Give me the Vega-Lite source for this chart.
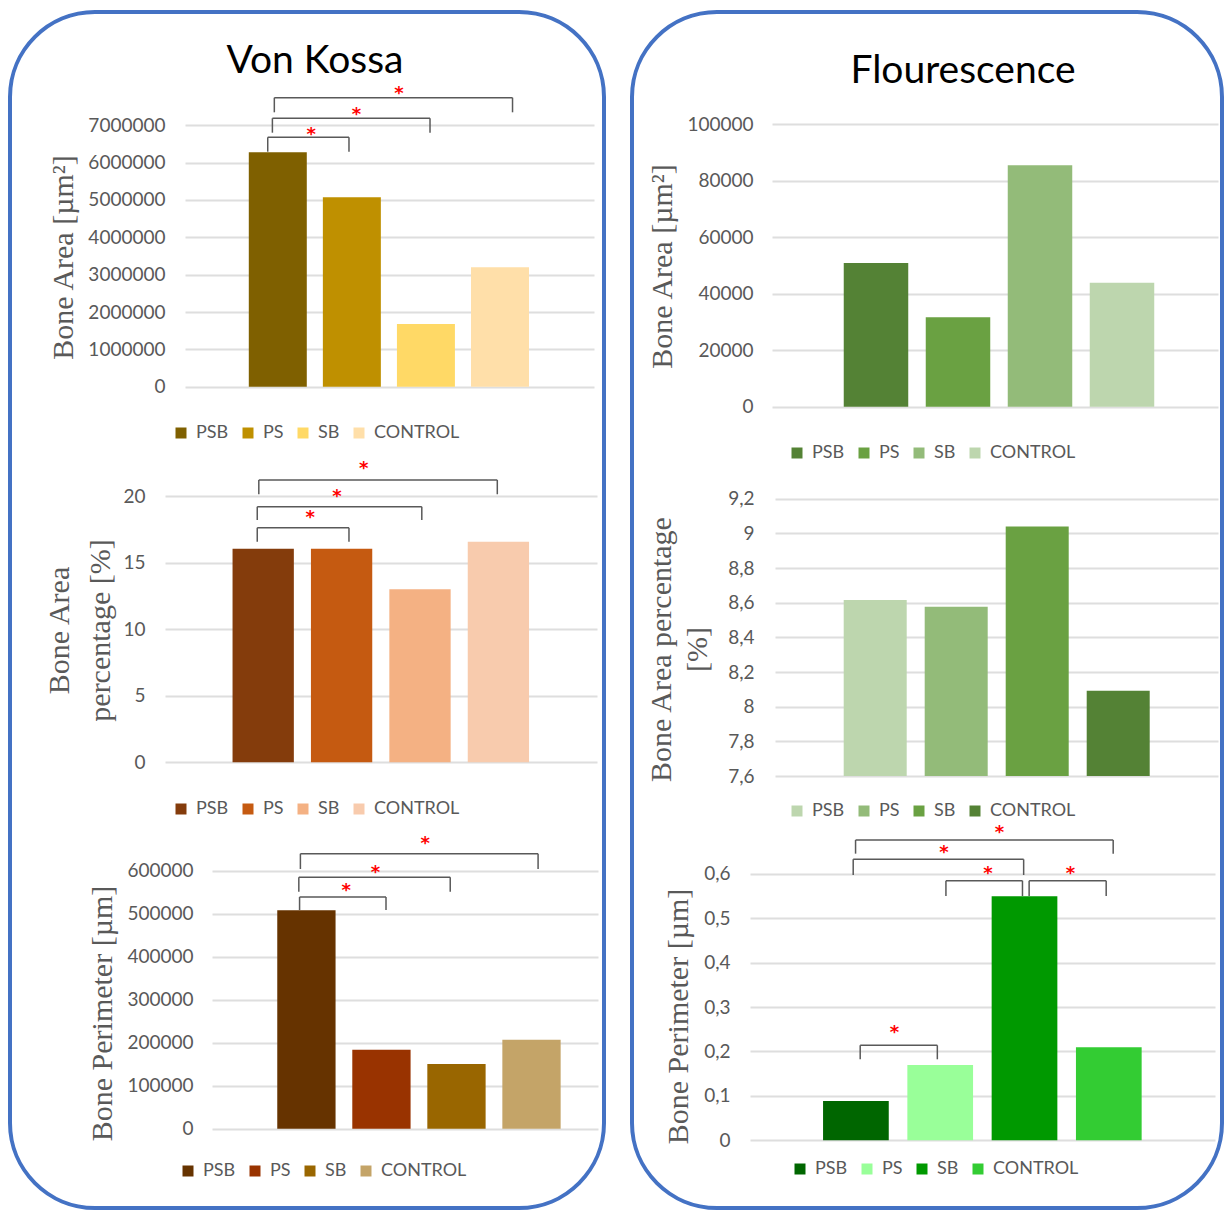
{
  "$schema": "https://vega.github.io/schema/vega-lite/v6.json",
  "background": "white",
  "padding": {"left": 8, "top": 10, "right": 0, "bottom": 0},
  "spacing": 24,
  "datasets": {
    "LT": [{"group": "PSB", "value": 6277000}, {"group": "PS", "value": 5072000}, {"group": "SB", "value": 1679000}, {"group": "CONTROL", "value": 3197000}],
    "LM": [{"group": "PSB", "value": 16.04}, {"group": "PS", "value": 16.04}, {"group": "SB", "value": 12.99}, {"group": "CONTROL", "value": 16.57}],
    "LB": [{"group": "PSB", "value": 507900}, {"group": "PS", "value": 183700}, {"group": "SB", "value": 150500}, {"group": "CONTROL", "value": 207000}],
    "RT": [{"group": "PSB", "value": 50830}, {"group": "PS", "value": 31620}, {"group": "SB", "value": 85390}, {"group": "CONTROL", "value": 43860}],
    "RM": [{"group": "PSB", "value": 8.616}, {"group": "PS", "value": 8.577}, {"group": "SB", "value": 9.039}, {"group": "CONTROL", "value": 8.092}],
    "RB": [{"group": "PSB", "value": 0.0885}, {"group": "PS", "value": 0.1695}, {"group": "SB", "value": 0.549}, {"group": "CONTROL", "value": 0.2093}],
    "bLT": [
      {"x1": 0.864, "x2": 1.961, "y": 6679000, "yb": 6293000, "sx": 1.452, "sy": 6874000},
      {"x1": 0.927, "x2": 3.055, "y": 7188000, "yb": 6802000, "sx": 2.061, "sy": 7410000},
      {"x1": 0.953, "x2": 4.169, "y": 7739000, "yb": 7348000, "sx": 2.634, "sy": 7980000}
    ],
    "bLM": [
      {"x1": 0.924, "x2": 2.094, "y": 17.62, "yb": 16.57, "sx": 1.598, "sy": 18.70},
      {"x1": 0.924, "x2": 3.023, "y": 19.20, "yb": 18.20, "sx": 1.941, "sy": 20.32},
      {"x1": 0.944, "x2": 3.986, "y": 21.20, "yb": 20.13, "sx": 2.283, "sy": 22.38}
    ],
    "bLB": [
      {"x1": 0.909, "x2": 2.061, "y": 538800, "yb": 508600, "sx": 1.532, "sy": 564400},
      {"x1": 0.899, "x2": 2.917, "y": 584700, "yb": 551200, "sx": 1.921, "sy": 605600},
      {"x1": 0.920, "x2": 4.088, "y": 639500, "yb": 604000, "sx": 2.585, "sy": 673700}
    ],
    "bRB": [
      {"x1": 1.051, "x2": 1.966, "y": 0.2138, "yb": 0.1823, "sx": 1.458, "sy": 0.2521},
      {"x1": 2.068, "x2": 2.976, "y": 0.5843, "yb": 0.5498, "sx": 2.566, "sy": 0.6099},
      {"x1": 3.055, "x2": 3.969, "y": 0.5843, "yb": 0.5498, "sx": 3.544, "sy": 0.6099},
      {"x1": 0.968, "x2": 2.990, "y": 0.6324, "yb": 0.5971, "sx": 2.044, "sy": 0.6572},
      {"x1": 0.996, "x2": 4.052, "y": 0.6759, "yb": 0.6451, "sx": 2.703, "sy": 0.7022}
    ]
  },
  "hconcat": [
    {
      "width": 594,
      "height": 1196,
      "title": {"text": "Von Kossa", "offset": -69, "dx": 8},
      "resolve": {"scale": {"x": "independent", "y": "independent", "color": "independent"}, "axis": {"x": "independent", "y": "independent"}, "legend": {"color": "independent"}},
      "layer": [
        {
          "data": {"name": "LT"},
          "mark": {"type": "bar"},
          "encoding": {
            "x": {"field": "group", "type": "nominal", "sort": null, "scale": {"domain": ["PSB", "PS", "SB", "CONTROL"], "range": [175, 584], "paddingInner": 0.217, "paddingOuter": 0.8695, "align": 0.4953}, "axis": null},
            "y": {"field": "value", "type": "quantitative", "scale": {"domain": [0, 7000000], "range": [374.7, 113.3], "nice": false, "zero": false},
              "axis": {"orient": "left", "grid": true, "offset": -155, "values": [0, 1000000, 2000000, 3000000, 4000000, 5000000, 6000000, 7000000], "format": "d", "title": "Bone Area [µm²]", "titleX": -102, "titleY": 245}},
            "y2": {"datum": 0},
            "color": {"field": "group", "type": "nominal", "scale": {"domain": ["PSB", "PS", "SB", "CONTROL"], "range": ["#7F6000", "#BF9000", "#FFD966", "#FFDFA9"]},
              "legend": {"title": null, "legendX": 162, "legendY": 412}}
          }
        },
        {
          "data": {"name": "bLT"},
          "mark": {"type": "rule", "color": "#595959", "strokeWidth": 1.5},
          "encoding": {
            "x": {"field": "x1", "type": "quantitative", "scale": {"domain": [-0.2529, 5.2689], "range": [175, 584], "nice": false, "zero": false}, "axis": null},
            "x2": {"field": "x2"},
            "y": {"field": "y", "type": "quantitative", "scale": {"domain": [0, 7000000], "range": [374.7, 113.3], "nice": false, "zero": false}, "axis": null}
          }
        },
        {
          "data": {"name": "bLT"},
          "mark": {"type": "rule", "color": "#595959", "strokeWidth": 1.5},
          "encoding": {
            "x": {"field": "x1", "type": "quantitative", "scale": {"domain": [-0.2529, 5.2689], "range": [175, 584], "nice": false, "zero": false}, "axis": null},
            "y": {"field": "y", "type": "quantitative", "scale": {"domain": [0, 7000000], "range": [374.7, 113.3], "nice": false, "zero": false}, "axis": null},
            "y2": {"field": "yb"}
          }
        },
        {
          "data": {"name": "bLT"},
          "mark": {"type": "rule", "color": "#595959", "strokeWidth": 1.5},
          "encoding": {
            "x": {"field": "x2", "type": "quantitative", "scale": {"domain": [-0.2529, 5.2689], "range": [175, 584], "nice": false, "zero": false}, "axis": null},
            "y": {"field": "y", "type": "quantitative", "scale": {"domain": [0, 7000000], "range": [374.7, 113.3], "nice": false, "zero": false}, "axis": null},
            "y2": {"field": "yb"}
          }
        },
        {
          "data": {"name": "bLT"},
          "mark": {"type": "text", "text": "*", "color": "#FF0000", "font": "DejaVu Sans", "fontSize": 18, "fontWeight": "bold", "align": "center", "baseline": "middle", "dy": 5},
          "encoding": {
            "x": {"field": "sx", "type": "quantitative", "scale": {"domain": [-0.2529, 5.2689], "range": [175, 584], "nice": false, "zero": false}, "axis": null},
            "y": {"field": "sy", "type": "quantitative", "scale": {"domain": [0, 7000000], "range": [374.7, 113.3], "nice": false, "zero": false}, "axis": null}
          }
        },
        {
          "data": {"name": "LM"},
          "mark": {"type": "bar"},
          "encoding": {
            "x": {"field": "group", "type": "nominal", "sort": null, "scale": {"domain": ["PSB", "PS", "SB", "CONTROL"], "range": [155, 587], "paddingInner": 0.2181, "paddingOuter": 0.8641, "align": 0.4985}, "axis": null},
            "y": {"field": "value", "type": "quantitative", "scale": {"domain": [0, 20], "range": [750.3, 484], "nice": false, "zero": false},
              "axis": {"orient": "left", "grid": true, "offset": -135, "values": [0, 5, 10, 15, 20], "format": "d", "title": ["Bone Area", "percentage [%]"], "titleX": -86, "titleY": 618, "titleLineHeight": 41}},
            "y2": {"datum": 0},
            "color": {"field": "group", "type": "nominal", "scale": {"domain": ["PSB", "PS", "SB", "CONTROL"], "range": ["#843C0C", "#C55A11", "#F4B183", "#F8CBAD"]},
              "legend": {"title": null, "legendX": 162, "legendY": 788}}
          }
        },
        {
          "data": {"name": "bLM"},
          "mark": {"type": "rule", "color": "#595959", "strokeWidth": 1.5},
          "encoding": {
            "x": {"field": "x1", "type": "quantitative", "scale": {"domain": [-0.2526, 5.2577], "range": [155, 587], "nice": false, "zero": false}, "axis": null},
            "x2": {"field": "x2"},
            "y": {"field": "y", "type": "quantitative", "scale": {"domain": [0, 20], "range": [750.3, 484], "nice": false, "zero": false}, "axis": null}
          }
        },
        {
          "data": {"name": "bLM"},
          "mark": {"type": "rule", "color": "#595959", "strokeWidth": 1.5},
          "encoding": {
            "x": {"field": "x1", "type": "quantitative", "scale": {"domain": [-0.2526, 5.2577], "range": [155, 587], "nice": false, "zero": false}, "axis": null},
            "y": {"field": "y", "type": "quantitative", "scale": {"domain": [0, 20], "range": [750.3, 484], "nice": false, "zero": false}, "axis": null},
            "y2": {"field": "yb"}
          }
        },
        {
          "data": {"name": "bLM"},
          "mark": {"type": "rule", "color": "#595959", "strokeWidth": 1.5},
          "encoding": {
            "x": {"field": "x2", "type": "quantitative", "scale": {"domain": [-0.2526, 5.2577], "range": [155, 587], "nice": false, "zero": false}, "axis": null},
            "y": {"field": "y", "type": "quantitative", "scale": {"domain": [0, 20], "range": [750.3, 484], "nice": false, "zero": false}, "axis": null},
            "y2": {"field": "yb"}
          }
        },
        {
          "data": {"name": "bLM"},
          "mark": {"type": "text", "text": "*", "color": "#FF0000", "font": "DejaVu Sans", "fontSize": 18, "fontWeight": "bold", "align": "center", "baseline": "middle", "dy": 5},
          "encoding": {
            "x": {"field": "sx", "type": "quantitative", "scale": {"domain": [-0.2526, 5.2577], "range": [155, 587], "nice": false, "zero": false}, "axis": null},
            "y": {"field": "sy", "type": "quantitative", "scale": {"domain": [0, 20], "range": [750.3, 484], "nice": false, "zero": false}, "axis": null}
          }
        },
        {
          "data": {"name": "LB"},
          "mark": {"type": "bar"},
          "encoding": {
            "x": {"field": "group", "type": "nominal", "sort": null, "scale": {"domain": ["PSB", "PS", "SB", "CONTROL"], "range": [202, 588], "paddingInner": 0.223, "paddingOuter": 0.6838, "align": 0.636}, "axis": null},
            "y": {"field": "value", "type": "quantitative", "scale": {"domain": [0, 600000], "range": [1116.7, 858.7], "nice": false, "zero": false},
              "axis": {"orient": "left", "grid": true, "offset": -183, "values": [0, 100000, 200000, 300000, 400000, 500000, 600000], "format": "d", "title": "Bone Perimeter [µm]", "titleX": -91, "titleY": 1001}},
            "y2": {"datum": 0},
            "color": {"field": "group", "type": "nominal", "scale": {"domain": ["PSB", "PS", "SB", "CONTROL"], "range": ["#663300", "#993300", "#996600", "#C4A468"]},
              "legend": {"title": null, "legendX": 169, "legendY": 1150}}
          }
        },
        {
          "data": {"name": "bLB"},
          "mark": {"type": "rule", "color": "#595959", "strokeWidth": 1.5},
          "encoding": {
            "x": {"field": "x1", "type": "quantitative", "scale": {"domain": [-0.2582, 4.8865], "range": [202, 588], "nice": false, "zero": false}, "axis": null},
            "x2": {"field": "x2"},
            "y": {"field": "y", "type": "quantitative", "scale": {"domain": [0, 600000], "range": [1116.7, 858.7], "nice": false, "zero": false}, "axis": null}
          }
        },
        {
          "data": {"name": "bLB"},
          "mark": {"type": "rule", "color": "#595959", "strokeWidth": 1.5},
          "encoding": {
            "x": {"field": "x1", "type": "quantitative", "scale": {"domain": [-0.2582, 4.8865], "range": [202, 588], "nice": false, "zero": false}, "axis": null},
            "y": {"field": "y", "type": "quantitative", "scale": {"domain": [0, 600000], "range": [1116.7, 858.7], "nice": false, "zero": false}, "axis": null},
            "y2": {"field": "yb"}
          }
        },
        {
          "data": {"name": "bLB"},
          "mark": {"type": "rule", "color": "#595959", "strokeWidth": 1.5},
          "encoding": {
            "x": {"field": "x2", "type": "quantitative", "scale": {"domain": [-0.2582, 4.8865], "range": [202, 588], "nice": false, "zero": false}, "axis": null},
            "y": {"field": "y", "type": "quantitative", "scale": {"domain": [0, 600000], "range": [1116.7, 858.7], "nice": false, "zero": false}, "axis": null},
            "y2": {"field": "yb"}
          }
        },
        {
          "data": {"name": "bLB"},
          "mark": {"type": "text", "text": "*", "color": "#FF0000", "font": "DejaVu Sans", "fontSize": 18, "fontWeight": "bold", "align": "center", "baseline": "middle", "dy": 5},
          "encoding": {
            "x": {"field": "sx", "type": "quantitative", "scale": {"domain": [-0.2582, 4.8865], "range": [202, 588], "nice": false, "zero": false}, "axis": null},
            "y": {"field": "sy", "type": "quantitative", "scale": {"domain": [0, 600000], "range": [1116.7, 858.7], "nice": false, "zero": false}, "axis": null}
          }
        }
      ]
    },
    {
      "width": 590,
      "height": 1196,
      "title": {"text": "Flourescence", "offset": -79, "dx": 36},
      "resolve": {"scale": {"x": "independent", "y": "independent", "color": "independent"}, "axis": {"x": "independent", "y": "independent"}, "legend": {"color": "independent"}},
      "layer": [
        {
          "data": {"name": "RT"},
          "mark": {"type": "bar"},
          "encoding": {
            "x": {"field": "group", "type": "nominal", "sort": null, "scale": {"domain": ["PSB", "PS", "SB", "CONTROL"], "range": [140, 586], "paddingInner": 0.2134, "paddingOuter": 0.8262, "align": 0.5295}, "axis": null},
            "y": {"field": "value", "type": "quantitative", "scale": {"domain": [0, 100000], "range": [394.7, 112], "nice": false, "zero": false},
              "axis": {"orient": "left", "grid": true, "offset": -121, "values": [0, 20000, 40000, 60000, 80000, 100000], "format": "d", "title": "Bone Area [µm²]", "titleX": -91, "titleY": 254}},
            "y2": {"datum": 0},
            "color": {"field": "group", "type": "nominal", "scale": {"domain": ["PSB", "PS", "SB", "CONTROL"], "range": ["#548235", "#6AA142", "#93BB79", "#BDD6AE"]},
              "legend": {"title": null, "legendX": 156, "legendY": 432}}
          }
        },
        {
          "data": {"name": "RM"},
          "mark": {"type": "bar"},
          "encoding": {
            "x": {"field": "group", "type": "nominal", "sort": null, "scale": {"domain": ["PSB", "PS", "SB", "CONTROL"], "range": [143, 586], "paddingInner": 0.2222, "paddingOuter": 0.8456, "align": 0.5015}, "axis": null},
            "y": {"field": "value", "type": "quantitative", "scale": {"domain": [7.6, 9.2], "range": [764, 486.7], "nice": false, "zero": false},
              "axis": {"orient": "left", "grid": true, "offset": -122, "values": [7.6, 7.8, 8, 8.2, 8.4, 8.6, 8.8, 9, 9.2], "labelExpr": "replace(format(datum.value, '.1~f'), '.', ',')", "title": ["Bone Area  percentage", "[%]"], "titleX": -93, "titleY": 637, "titleLineHeight": 36}},
            "y2": {"datum": 7.6},
            "color": {"field": "group", "type": "nominal", "scale": {"domain": ["PSB", "PS", "SB", "CONTROL"], "range": ["#BDD6AE", "#93BB79", "#6AA142", "#548235"]},
              "legend": {"title": null, "legendX": 156, "legendY": 790}}
          }
        },
        {
          "data": {"name": "RB"},
          "mark": {"type": "bar"},
          "encoding": {
            "x": {"field": "group", "type": "nominal", "sort": null, "scale": {"domain": ["PSB", "PS", "SB", "CONTROL"], "range": [118, 583], "paddingInner": 0.2206, "paddingOuter": 0.8683, "align": 0.499}, "axis": null},
            "y": {"field": "value", "type": "quantitative", "scale": {"domain": [0, 0.6], "range": [1128.3, 861.7], "nice": false, "zero": false},
              "axis": {"orient": "left", "grid": true, "offset": -98, "values": [0, 0.1, 0.2, 0.3, 0.4, 0.5, 0.6], "labelExpr": "replace(format(datum.value, '.1~f'), '.', ',')", "title": "Bone Perimeter [µm]", "titleX": -52, "titleY": 1004}},
            "y2": {"datum": 0},
            "color": {"field": "group", "type": "nominal", "scale": {"domain": ["PSB", "PS", "SB", "CONTROL"], "range": ["#006600", "#99FF99", "#009900", "#33CC33"]},
              "legend": {"title": null, "legendX": 159, "legendY": 1148}}
          }
        },
        {
          "data": {"name": "bRB"},
          "mark": {"type": "rule", "color": "#595959", "strokeWidth": 1.5},
          "encoding": {
            "x": {"field": "x1", "type": "quantitative", "scale": {"domain": [-0.2562, 5.2598], "range": [118, 583], "nice": false, "zero": false}, "axis": null},
            "x2": {"field": "x2"},
            "y": {"field": "y", "type": "quantitative", "scale": {"domain": [0, 0.6], "range": [1128.3, 861.7], "nice": false, "zero": false}, "axis": null}
          }
        },
        {
          "data": {"name": "bRB"},
          "mark": {"type": "rule", "color": "#595959", "strokeWidth": 1.5},
          "encoding": {
            "x": {"field": "x1", "type": "quantitative", "scale": {"domain": [-0.2562, 5.2598], "range": [118, 583], "nice": false, "zero": false}, "axis": null},
            "y": {"field": "y", "type": "quantitative", "scale": {"domain": [0, 0.6], "range": [1128.3, 861.7], "nice": false, "zero": false}, "axis": null},
            "y2": {"field": "yb"}
          }
        },
        {
          "data": {"name": "bRB"},
          "mark": {"type": "rule", "color": "#595959", "strokeWidth": 1.5},
          "encoding": {
            "x": {"field": "x2", "type": "quantitative", "scale": {"domain": [-0.2562, 5.2598], "range": [118, 583], "nice": false, "zero": false}, "axis": null},
            "y": {"field": "y", "type": "quantitative", "scale": {"domain": [0, 0.6], "range": [1128.3, 861.7], "nice": false, "zero": false}, "axis": null},
            "y2": {"field": "yb"}
          }
        },
        {
          "data": {"name": "bRB"},
          "mark": {"type": "text", "text": "*", "color": "#FF0000", "font": "DejaVu Sans", "fontSize": 18, "fontWeight": "bold", "align": "center", "baseline": "middle", "dy": 5},
          "encoding": {
            "x": {"field": "sx", "type": "quantitative", "scale": {"domain": [-0.2562, 5.2598], "range": [118, 583], "nice": false, "zero": false}, "axis": null},
            "y": {"field": "sy", "type": "quantitative", "scale": {"domain": [0, 0.6], "range": [1128.3, 861.7], "nice": false, "zero": false}, "axis": null}
          }
        }
      ]
    }
  ],
  "config": {
    "view": {"stroke": "#4472C4", "strokeWidth": 4, "cornerRadius": 85, "fill": "white"},
    "title": {"font": "Lato", "fontSize": 39, "fontWeight": "normal", "color": "#000000", "anchor": "middle", "baseline": "alphabetic"},
    "axis": {
      "domain": false, "ticks": false, "tickSize": 0, "labelPadding": 0,
      "grid": true, "gridColor": "#DEDEDE", "gridWidth": 2,
      "labelFont": "Lato", "labelFontSize": 19, "labelColor": "#595959",
      "titleFont": "Liberation Serif", "titleFontSize": 30, "titleFontWeight": "normal", "titleColor": "#595959",
      "titleAngle": -90, "titleAlign": "center", "titleBaseline": "middle"
    },
    "legend": {
      "orient": "none", "direction": "horizontal", "symbolType": "square", "symbolSize": 121,
      "symbolStrokeWidth": 0, "symbolOpacity": 1, "labelFont": "Lato", "labelFontSize": 18, "labelColor": "#595959",
      "labelOffset": 6, "columnPadding": 10, "padding": 0
    }
  }
}
